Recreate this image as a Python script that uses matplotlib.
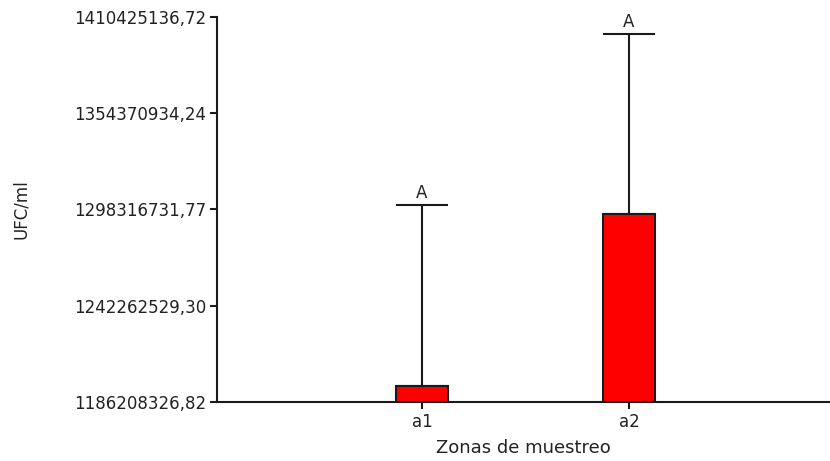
import matplotlib
matplotlib.use("Agg")
import matplotlib.pyplot as plt

# Data
zonas = ["a1", "a2"]
medias = [1195700000.0, 1295500000.0]
errores = [105240000.0, 105000000.0]
letras = ["A", "A"]
yticks = [1186208326.82, 1242262529.30, 1298316731.77, 1354370934.24, 1410425136.72]
ytick_labels = ["1186208326,82", "1242262529,30", "1298316731,77",
                "1354370934,24", "1410425136,72"]

plt.rcParams["font.family"] = ["DejaVu Sans"]

fig = plt.figure(figsize=(8.30, 4.61), dpi=100)
ax = fig.add_axes([217 / 830, 1 - 402 / 461, (830 - 217) / 830, (402 - 17) / 461])

base = yticks[0]
xs = [1, 2]
alturas = [m - base for m in medias]
ax.bar(xs, alturas, bottom=base, width=0.252, color="#ff0000",
       edgecolor="#1a1a1a", linewidth=1.5, zorder=2)
ax.errorbar(xs, medias, yerr=[[0, 0], errores], fmt="none",
            ecolor="#1a1a1a", elinewidth=1.5, capsize=18.7, capthick=1.5,
            zorder=1)

for x, m, e, l in zip(xs, medias, errores, letras):
    ax.annotate(l, (x, m + e), xytext=(0, 2), textcoords="offset points",
                ha="center", va="bottom", fontsize=12, color="#222222")

ax.set_xlim(0.0097, 2.971)
ax.set_ylim(yticks[0], yticks[-1])
ax.set_xticks(xs)
ax.set_xticklabels(zonas)
ax.set_yticks(yticks)
ax.set_yticklabels(ytick_labels)

for s in ("top", "right"):
    ax.spines[s].set_visible(False)
for s in ("left", "bottom"):
    ax.spines[s].set_linewidth(1.5)
    ax.spines[s].set_color("#1a1a1a")
ax.spines["left"].set_bounds(yticks[0], yticks[-1])

ax.tick_params(axis="both", direction="out", length=5, width=1.5,
               color="#1a1a1a", labelsize=12, labelcolor="#222222", pad=3)

ax.set_xlabel("Zonas de muestreo", fontsize=13, color="#222222", labelpad=6)
ax.set_ylabel("UFC/ml", fontsize=12, color="#222222")
ax.yaxis.set_label_coords(-0.305, 0.5)

fig.savefig("out.png", dpi=100)
